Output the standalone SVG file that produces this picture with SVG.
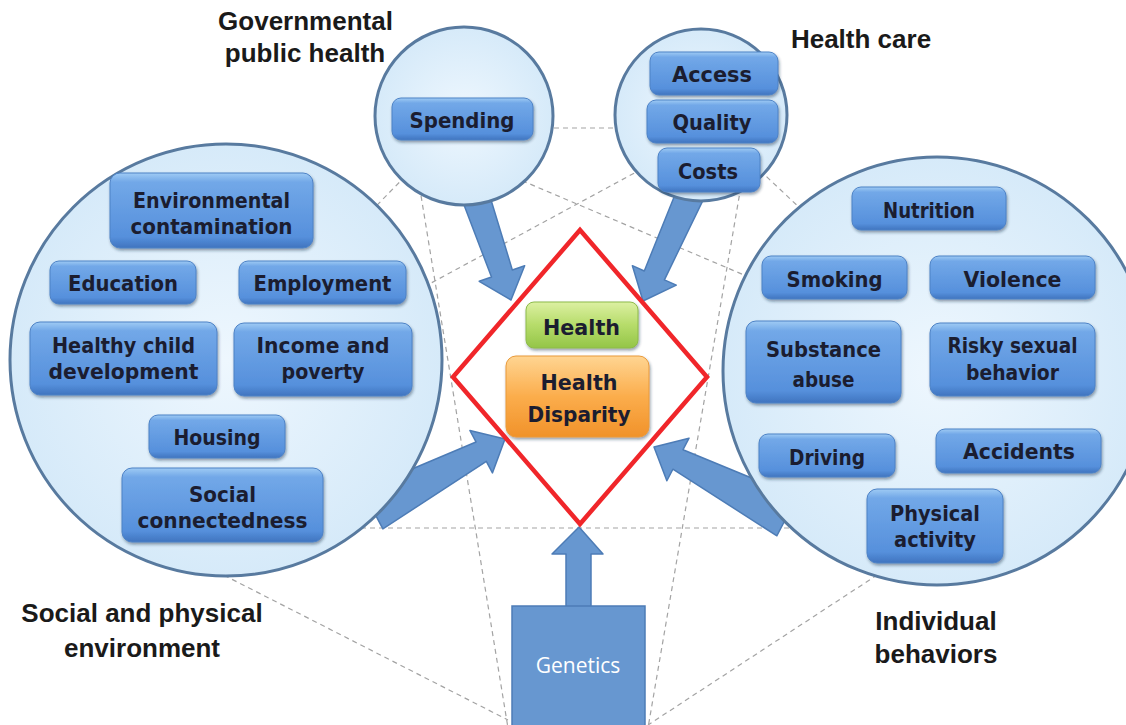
<svg xmlns="http://www.w3.org/2000/svg" width="1126" height="725" viewBox="0 0 1126 725">
  <style>
    .web { stroke: #a3a3a3; stroke-width: 1.2; stroke-dasharray: 5 4; fill: none; }
    .ring { fill: url(#ringFill); stroke: #587a9f; stroke-width: 3; }
    .bigArrow { fill: #6797d0; stroke: #4d7cb6; stroke-width: 1.5; stroke-linejoin: round; }
    .box { fill: url(#boxFill); stroke: #4d82c6; stroke-width: 1; filter: url(#shadow); }
    .lbl { font-family: "DejaVu Sans", "Liberation Sans", sans-serif; font-weight: bold; font-size: 21px; fill: #1b1d30; text-anchor: middle; }
    .title { font-family: "Liberation Sans", Arial, sans-serif; font-weight: bold; font-size: 26px; fill: #1a1a1a; text-anchor: middle; }
    .gen { font-family: "Open Sans", "Liberation Sans", sans-serif; font-size: 21px; fill: #ffffff; text-anchor: middle; }
  </style>
  <defs>
    <radialGradient id="ringFill" cx="0.5" cy="0.5" r="0.5">
      <stop offset="0" stop-color="#eef7fe"/>
      <stop offset="1" stop-color="#d6eaf9"/>
    </radialGradient>
    <linearGradient id="boxFill" x1="0" y1="0" x2="0" y2="1">
      <stop offset="0" stop-color="#9fcbf4"/>
      <stop offset="0.12" stop-color="#72a8e8"/>
      <stop offset="0.85" stop-color="#5690dc"/>
      <stop offset="1" stop-color="#3f74bf"/>
    </linearGradient>
    <linearGradient id="greenFill" x1="0" y1="0" x2="0" y2="1">
      <stop offset="0" stop-color="#dcf0a2"/>
      <stop offset="0.5" stop-color="#b6dc6a"/>
      <stop offset="1" stop-color="#94c548"/>
    </linearGradient>
    <linearGradient id="orangeFill" x1="0" y1="0" x2="0" y2="1">
      <stop offset="0" stop-color="#ffd592"/>
      <stop offset="0.5" stop-color="#fbad4c"/>
      <stop offset="1" stop-color="#f1922a"/>
    </linearGradient>
    <filter id="shadow" x="-10%" y="-20%" width="125%" height="150%">
      <feDropShadow dx="1" dy="2" stdDeviation="1.5" flood-color="#1a2a44" flood-opacity="0.45"/>
    </filter>
  </defs>

  <rect width="1126" height="725" fill="#ffffff"/>

  <!-- background web of dashed guide lines -->
  <g id="connectors">
    <g id="web">
      <line class="web" x1="464" y1="128" x2="701" y2="128"/>
      <line class="web" x1="226" y1="528" x2="937" y2="528"/>
      <line class="web" x1="226" y1="394" x2="701" y2="137"/>
      <line class="web" x1="464" y1="156" x2="937" y2="357"/>
      <line class="web" x1="226" y1="360" x2="464" y2="116"/>
      <line class="web" x1="701" y1="115" x2="937" y2="337"/>
      <line class="web" x1="408" y1="116" x2="508" y2="728"/>
      <line class="web" x1="753" y1="116" x2="648" y2="728"/>
      <line class="web" x1="200" y1="563" x2="508" y2="720"/>
      <line class="web" x1="900" y1="560" x2="648" y2="725"/>
    </g>

    <!-- block arrows pointing at the central diamond -->
    <g id="arrows">
      <polygon class="bigArrow" transform="translate(511,300) rotate(71.1)" points="0,0 -28,-24 -28,-11 -115,-14 -115,14 -28,11 -28,24"/>
      <polygon class="bigArrow" transform="translate(643,301) rotate(113.9)" points="0,0 -28,-24 -28,-11 -116,-14 -116,14 -28,11 -28,24"/>
      <polygon class="bigArrow" transform="translate(505,439) rotate(-28)" points="0,0 -27,-24 -27,-11 -150,-22 -150,22 -27,11 -27,24"/>
      <polygon class="bigArrow" transform="translate(654,447) rotate(207.5)" points="0,0 -27,-24 -27,-11 -150,-22 -150,22 -27,11 -27,24"/>
      <polygon class="bigArrow" points="579,527 603,554 591,554 591,607 566,607 566,554 552,554"/>
    </g>
  </g>

  <!-- factor circles -->
  <g id="circle-social"><circle class="ring" cx="226" cy="360" r="216"/></g>
  <g id="circle-behaviors"><circle class="ring" cx="937" cy="371" r="214"/></g>
  <g id="circle-government"><circle class="ring" cx="464" cy="116" r="89"/></g>
  <g id="circle-healthcare"><circle class="ring" cx="701" cy="115" r="86"/></g>

  <!-- governmental public health -->
  <g id="spending">
    <rect class="box" x="392" y="98" width="141" height="42" rx="9"/>
    <text class="lbl" x="462" y="128" textLength="105" lengthAdjust="spacingAndGlyphs">Spending</text>
  </g>

  <!-- health care -->
  <g id="access">
    <rect class="box" x="650" y="52" width="128" height="43" rx="9"/>
    <text class="lbl" x="712" y="82" textLength="80" lengthAdjust="spacingAndGlyphs">Access</text>
  </g>
  <g id="quality">
    <rect class="box" x="647" y="100" width="131" height="43" rx="9"/>
    <text class="lbl" x="712" y="130" textLength="79" lengthAdjust="spacingAndGlyphs">Quality</text>
  </g>
  <g id="costs">
    <rect class="box" x="658" y="148" width="102" height="44" rx="9"/>
    <text class="lbl" x="708" y="179" textLength="60" lengthAdjust="spacingAndGlyphs">Costs</text>
  </g>

  <!-- social and physical environment -->
  <g id="environmental-contamination">
    <rect class="box" x="110" y="173" width="203" height="75" rx="10"/>
    <text class="lbl" x="211.5" y="208" textLength="157" lengthAdjust="spacingAndGlyphs">Environmental</text>
    <text class="lbl" x="211.5" y="234" textLength="162" lengthAdjust="spacingAndGlyphs">contamination</text>
  </g>
  <g id="education">
    <rect class="box" x="50" y="261" width="146" height="43" rx="9"/>
    <text class="lbl" x="123" y="291" textLength="110" lengthAdjust="spacingAndGlyphs">Education</text>
  </g>
  <g id="employment">
    <rect class="box" x="239" y="261" width="167" height="43" rx="9"/>
    <text class="lbl" x="322.5" y="291" textLength="138" lengthAdjust="spacingAndGlyphs">Employment</text>
  </g>
  <g id="healthy-child-development">
    <rect class="box" x="30" y="322" width="187" height="73" rx="10"/>
    <text class="lbl" x="123.5" y="353" textLength="143" lengthAdjust="spacingAndGlyphs">Healthy child</text>
    <text class="lbl" x="123.5" y="379" textLength="150" lengthAdjust="spacingAndGlyphs">development</text>
  </g>
  <g id="income-poverty">
    <rect class="box" x="234" y="323" width="178" height="73" rx="10"/>
    <text class="lbl" x="323" y="353" textLength="133" lengthAdjust="spacingAndGlyphs">Income and</text>
    <text class="lbl" x="323" y="379" textLength="83" lengthAdjust="spacingAndGlyphs">poverty</text>
  </g>
  <g id="housing">
    <rect class="box" x="149" y="415" width="136" height="43" rx="9"/>
    <text class="lbl" x="217" y="445" textLength="87" lengthAdjust="spacingAndGlyphs">Housing</text>
  </g>
  <g id="social-connectedness">
    <rect class="box" x="122" y="468" width="201" height="74" rx="10"/>
    <text class="lbl" x="222.5" y="502" textLength="67" lengthAdjust="spacingAndGlyphs">Social</text>
    <text class="lbl" x="222.5" y="528" textLength="170" lengthAdjust="spacingAndGlyphs">connectedness</text>
  </g>

  <!-- individual behaviors -->
  <g id="nutrition">
    <rect class="box" x="852" y="187" width="154" height="43" rx="9"/>
    <text class="lbl" x="929" y="218" textLength="92" lengthAdjust="spacingAndGlyphs">Nutrition</text>
  </g>
  <g id="smoking">
    <rect class="box" x="762" y="256" width="145" height="43" rx="9"/>
    <text class="lbl" x="834.5" y="287" textLength="96" lengthAdjust="spacingAndGlyphs">Smoking</text>
  </g>
  <g id="violence">
    <rect class="box" x="930" y="256" width="165" height="43" rx="9"/>
    <text class="lbl" x="1012.5" y="287" textLength="98" lengthAdjust="spacingAndGlyphs">Violence</text>
  </g>
  <g id="substance-abuse">
    <rect class="box" x="746" y="321" width="155" height="82" rx="10"/>
    <text class="lbl" x="823.5" y="357" textLength="115" lengthAdjust="spacingAndGlyphs">Substance</text>
    <text class="lbl" x="823.5" y="387" textLength="62" lengthAdjust="spacingAndGlyphs">abuse</text>
  </g>
  <g id="risky-sexual-behavior">
    <rect class="box" x="930" y="323" width="165" height="73" rx="10"/>
    <text class="lbl" x="1012.5" y="353" textLength="130" lengthAdjust="spacingAndGlyphs">Risky sexual</text>
    <text class="lbl" x="1012.5" y="380" textLength="93" lengthAdjust="spacingAndGlyphs">behavior</text>
  </g>
  <g id="driving">
    <rect class="box" x="759" y="434" width="136" height="43" rx="9"/>
    <text class="lbl" x="827" y="465" textLength="76" lengthAdjust="spacingAndGlyphs">Driving</text>
  </g>
  <g id="accidents">
    <rect class="box" x="936" y="429" width="165" height="44" rx="9"/>
    <text class="lbl" x="1019" y="459" textLength="112" lengthAdjust="spacingAndGlyphs">Accidents</text>
  </g>
  <g id="physical-activity">
    <rect class="box" x="867" y="489" width="136" height="74" rx="10"/>
    <text class="lbl" x="935" y="521" textLength="90" lengthAdjust="spacingAndGlyphs">Physical</text>
    <text class="lbl" x="935" y="547" textLength="82" lengthAdjust="spacingAndGlyphs">activity</text>
  </g>

  <!-- central outcome -->
  <g id="diamond">
    <polygon points="580,230 707,377 580,524 453,377" fill="none" stroke="#f0262a" stroke-width="4.5" stroke-linejoin="miter"/>
  </g>
  <g id="health">
    <rect x="526" y="302" width="112" height="46" rx="8" fill="url(#greenFill)" stroke="#8dbb4a" stroke-width="1" filter="url(#shadow)"/>
    <text class="lbl" x="581.5" y="335" textLength="77" lengthAdjust="spacingAndGlyphs">Health</text>
  </g>
  <g id="health-disparity">
    <rect x="506" y="356" width="143" height="81" rx="10" fill="url(#orangeFill)" stroke="#e99a3a" stroke-width="1" filter="url(#shadow)"/>
    <text class="lbl" x="579" y="390" textLength="77" lengthAdjust="spacingAndGlyphs">Health</text>
    <text class="lbl" x="579" y="422" textLength="103" lengthAdjust="spacingAndGlyphs">Disparity</text>
  </g>

  <g id="genetics">
    <rect x="512" y="606" width="133" height="130" fill="#6797d0" stroke="#4d7cb6" stroke-width="1.5"/>
    <text class="gen" x="578" y="673">Genetics</text>
  </g>

  <!-- group titles -->
  <g id="titles">
    <text class="title" x="305.5" y="30">Governmental</text>
    <text class="title" x="305" y="62">public health</text>
    <text class="title" x="861" y="48">Health care</text>
    <text class="title" x="142" y="622">Social and physical</text>
    <text class="title" x="142" y="657">environment</text>
    <text class="title" x="936" y="630">Individual</text>
    <text class="title" x="936" y="663">behaviors</text>
  </g>
</svg>
